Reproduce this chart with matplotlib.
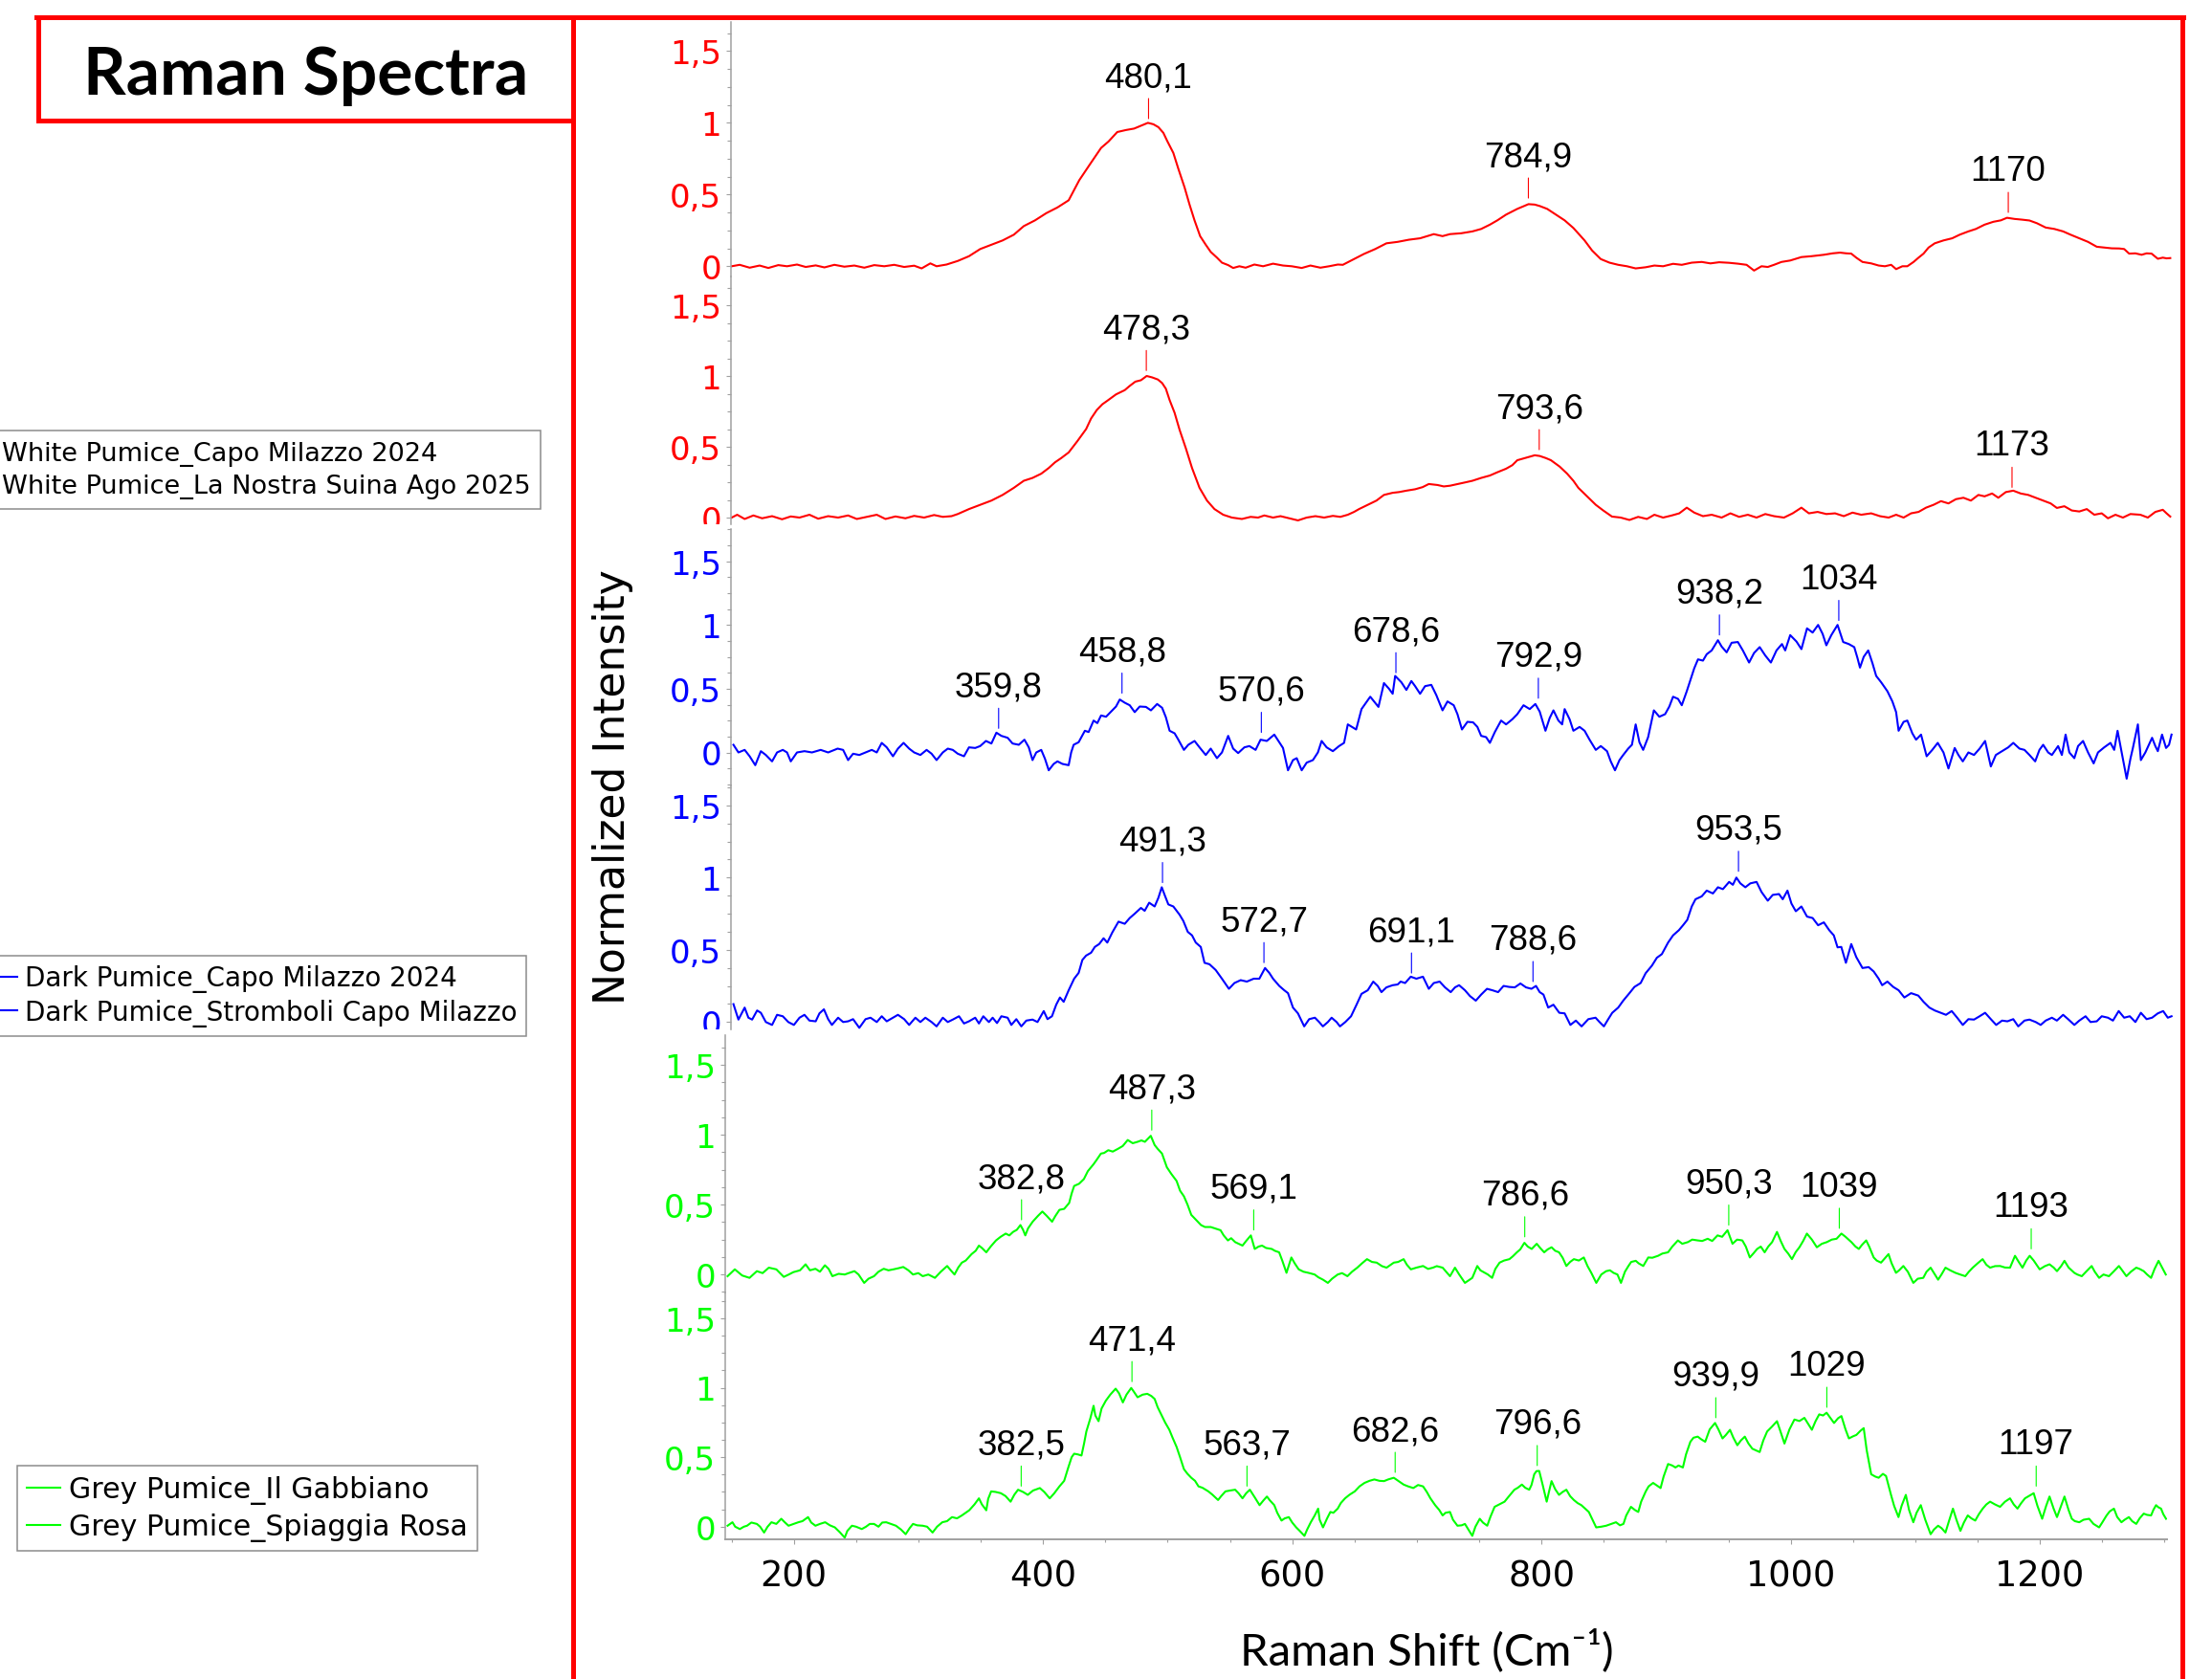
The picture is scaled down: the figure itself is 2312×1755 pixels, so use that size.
import matplotlib
matplotlib.use("Agg")
import matplotlib.pyplot as plt
from matplotlib.ticker import MultipleLocator, FixedLocator, FuncFormatter
from matplotlib.lines import Line2D
from matplotlib.transforms import Bbox, TransformedBbox

# ---------------- data (Raman shift, normalized intensity) ----------------
legend_white = ["White Pumice_Capo Milazzo 2024", "White Pumice_La Nostra Suina Ago 2025"]
legend_dark = ["Dark Pumice_Capo Milazzo 2024", "Dark Pumice_Stromboli Capo Milazzo"]
legend_grey = ["Grey Pumice_Il Gabbiano", "Grey Pumice_Spiaggia Rosa"]

white_capo = [(145.6,0.0),(152,0.01),(160,-0.01),(168,0.005),(175,-0.012),(183,0.008),(190,0.0),(198,0.012),(205,-0.005),(213,0.006),(220,-0.008),(228,0.01),(236,-0.003),(244,0.005),(252,-0.01),(260,0.008),(268,0.0),(276,0.01),(284,-0.005),(292,0.004),(298,-0.015),(305,0.02),(310,0.0),(318,0.012),(327,0.037),(336,0.07),(345,0.12),(354,0.15),(363,0.18),(372,0.22),(380,0.28),(389,0.32),(398,0.37),(407,0.41),(416,0.46),(424.5,0.60),(433,0.71),(442,0.825),(448,0.87),(455,0.936),(462,0.95),(468.5,0.96),(474,0.98),(479.6,1.0),(484,0.99),(488,0.97),(492,0.93),(495,0.875),(500,0.79),(504,0.68),(509,0.55),(513,0.43),(517,0.32),(521.5,0.21),(526,0.15),(530,0.10),(535,0.06),(539,0.025),(544,0.008),(548,-0.012),(553,0.0),(558,-0.01),(565,0.012),(572,0.0),(580,0.018),(588,0.005),(595,0.0),(603,-0.012),(610,0.005),(618,-0.01),(625,0.0),(632,0.012),(636,0.01),(645,0.05),(653,0.086),(662,0.12),(671,0.16),(680,0.17),(689,0.185),(698,0.195),(709,0.224),(716,0.21),(722,0.224),(731,0.23),(740,0.243),(747,0.26),(754,0.29),(760,0.32),(767,0.36),(776,0.40),(785,0.433),(790,0.43),(794,0.42),(800,0.40),(807,0.36),(814,0.32),(821,0.267),(830,0.18),(836,0.11),(843,0.05),(850,0.025),(857,0.01),(864,0.0),(871,-0.015),(879,-0.007),(886,0.005),(893,0.0),(901,0.017),(908,0.01),(916,0.025),(924,0.03),(931,0.02),(938,0.028),(946,0.024),(953,0.018),(960,0.01),(966,-0.03),(972,0.0),(977,-0.005),(982,0.01),(988,0.03),(995,0.04),(1004,0.064),(1012,0.07),(1022,0.08),(1029,0.09),(1035,0.095),(1040,0.09),(1044,0.088),(1048,0.06),(1053,0.03),(1060,0.02),(1066,0.005),(1071,0.0),(1076,0.01),(1080,-0.02),(1085,0.0),(1089,0.0),(1094,0.03),(1098,0.06),(1102,0.088),(1106,0.13),(1111,0.16),(1118,0.18),(1125,0.195),(1131,0.22),(1138,0.243),(1144,0.26),(1151,0.29),(1158,0.31),(1164,0.32),(1169,0.338),(1175,0.33),(1181,0.325),(1187,0.319),(1193,0.30),(1200,0.27),(1207,0.26),(1214,0.243),(1220,0.22),(1227,0.195),(1234,0.17),(1241,0.136),(1248,0.13),(1253,0.125),(1259,0.124),(1263,0.12),(1267,0.088),(1272,0.09),(1277,0.08),(1281,0.09),(1285,0.088),(1290,0.052),(1294,0.06),(1297,0.055),(1300,0.057)]

white_suina = [(145.6,0.0),(150,0.02),(156,-0.01),(163,0.015),(170,-0.005),(178,0.01),(186,-0.012),(193,0.008),(200,0.0),(208,0.02),(215,-0.008),(223,0.01),(231,0.0),(239,0.015),(246,-0.01),(254,0.005),(262,0.02),(269,-0.01),(277,0.008),(285,-0.005),(292,0.012),(300,0.0),(308,0.018),(315,0.005),(322,0.01),(327,0.025),(336,0.06),(345,0.09),(354,0.12),(363,0.16),(372,0.21),(380,0.26),(387,0.28),(394,0.31),(400,0.35),(405,0.39),(410,0.42),(416,0.46),(423,0.54),(430,0.625),(434,0.70),(438.6,0.76),(443,0.80),(447,0.825),(454,0.87),(461,0.90),(465,0.93),(469.5,0.96),(474,0.97),(478.6,1.0),(483,0.99),(487.6,0.975),(491,0.95),(494,0.91),(497,0.83),(501,0.74),(505,0.62),(510,0.49),(515,0.35),(521,0.21),(527,0.12),(533,0.06),(540,0.02),(547,0.0),(555,-0.01),(562,0.005),(568,0.0),(573,0.015),(580,0.0),(586,0.01),(593,-0.005),(600,-0.02),(607,0.0),(614,0.01),(621,0.0),(628,0.012),(634,0.005),(640,0.02),(645,0.04),(649,0.06),(656,0.09),(663,0.12),(669,0.16),(676,0.175),(681,0.18),(687,0.19),(694,0.20),(700,0.215),(705,0.237),(712,0.23),(717,0.22),(722,0.225),(730,0.24),(735,0.25),(740,0.26),(747,0.28),(754,0.297),(760,0.32),(767,0.345),(772,0.37),(776,0.405),(782,0.42),(786,0.43),(790,0.44),(794,0.435),(799,0.42),(803,0.405),(810,0.36),(816,0.31),(821,0.26),(825,0.21),(832,0.15),(839,0.09),(845,0.05),(852,0.007),(859,0.0),(866,-0.017),(873,0.005),(880,-0.01),(886,0.02),(893,0.0),(900,0.015),(906,0.03),(912,0.07),(918,0.035),(925,0.01),(932,0.02),(940,0.0),(947,0.03),(954,0.005),(961,0.02),(968,0.0),(975,0.025),(982,0.01),(990,0.0),(997,0.03),(1004,0.07),(1010,0.03),(1017,0.04),(1024,0.025),(1031,0.03),(1038,0.01),(1045,0.035),(1052,0.02),(1060,0.03),(1067,0.01),(1074,0.0),(1080,0.02),(1086,0.0),(1092,0.03),(1098,0.04),(1104,0.07),(1110,0.09),(1116,0.116),(1122,0.10),(1128,0.13),(1134,0.14),(1140,0.12),(1146,0.16),(1151,0.15),(1157,0.17),(1162,0.14),(1168,0.18),(1174,0.19),(1180,0.17),(1186,0.16),(1192,0.14),(1198,0.12),(1204,0.10),(1209,0.068),(1215,0.08),(1221,0.05),(1227,0.043),(1233,0.06),(1239,0.02),(1245,0.03),(1250,-0.005),(1256,0.02),(1262,0.0),(1268,0.025),(1276,0.02),(1282,0.0),(1288,0.04),(1294,0.055),(1297,0.03),(1300,0.007)]

dark_capo = [(147,0.06),(151,0.0),(156,0.02),(160,-0.03),(164.5,-0.1),(169,0.01),(173,-0.02),(178,-0.07),(182,0.0),(186.6,0.02),(190,0.0),(193,-0.07),(198,0.0),(204,0.01),(210,0.0),(217,0.02),(223,0.0),(230.6,0.03),(235,0.02),(239,-0.06),(243,-0.01),(248,-0.02),(253,0.0),(258,0.02),(262,0.0),(266,0.075),(270,0.04),(275,-0.03),(279,0.03),(283.5,0.075),(288,0.03),(292,0.0),(297,-0.02),(302,0.02),(306,-0.01),(310,-0.06),(315,0.0),(319,0.03),(323,0.02),(327,-0.01),(332,-0.03),(336,0.04),(341,0.035),(345,0.05),(349.6,0.09),(354,0.07),(358,0.155),(362,0.13),(367,0.115),(371,0.07),(376,0.06),(380.5,0.10),(384,0.04),(387,-0.06),(390,0.0),(394,0.02),(397,-0.05),(400,-0.14),(404,-0.09),(407,-0.07),(411,-0.09),(416,-0.1),(418,0.0),(420,0.06),(424,0.08),(429,0.17),(432,0.16),(436,0.25),(439,0.23),(442,0.29),(446,0.28),(451,0.33),(454,0.36),(457,0.415),(461,0.39),(465,0.37),(469,0.316),(473,0.36),(478,0.357),(482,0.33),(487,0.38),(491,0.35),(494,0.276),(497,0.17),(501,0.15),(504,0.10),(508.5,0.02),(512,0.06),(517,0.09),(521,0.04),(526,-0.02),(530,0.03),(535,-0.045),(539,0.0),(544,0.13),(548,0.03),(552,-0.005),(557,0.04),(561,0.05),(566,0.02),(570,0.10),(575,0.09),(581,0.14),(585,0.08),(588,0.035),(592,-0.14),(596,-0.06),(599,-0.045),(603,-0.14),(607,-0.08),(612,-0.06),(616,0.0),(619,0.09),(623,0.04),(628,0.01),(633,0.05),(637,0.075),(640,0.22),(646.7,0.18),(651,0.34),(658,0.437),(664.6,0.357),(669,0.544),(673,0.50),(676,0.46),(678,0.60),(683,0.55),(687,0.49),(691,0.56),(694,0.52),(698,0.46),(702,0.52),(707,0.53),(711,0.45),(716,0.33),(720,0.40),(725,0.37),(728,0.30),(731.6,0.18),(736,0.24),(740.5,0.236),(744,0.20),(747,0.13),(751,0.12),(754,0.075),(758,0.16),(763,0.25),(767,0.22),(772,0.26),(776,0.30),(781,0.37),(786,0.34),(790.5,0.38),(794,0.32),(798.6,0.17),(802,0.27),(805,0.33),(809,0.25),(812,0.22),(814,0.34),(818,0.26),(821,0.17),(826,0.20),(830,0.17),(834,0.10),(839,0.02),(843,0.05),(848,0.01),(851,-0.07),(854.4,-0.14),(858,-0.06),(861,-0.02),(865,0.03),(868,0.06),(871,0.22),(874,0.08),(877,0.02),(881,0.12),(885.6,0.33),(890,0.28),(894.6,0.30),(898,0.36),(901,0.437),(905,0.42),(908,0.37),(912,0.48),(915,0.57),(918,0.66),(921,0.73),(925,0.72),(928,0.77),(932,0.80),(937,0.88),(940,0.83),(944,0.785),(948,0.86),(953,0.866),(957,0.80),(962,0.705),(966,0.78),(970.5,0.826),(975,0.76),(979.5,0.705),(984,0.80),(988.4,0.85),(991,0.80),(995,0.92),(1000,0.87),(1004,0.81),(1008.5,0.973),(1013,0.94),(1017.4,1.0),(1021,0.93),(1024,0.84),(1028,0.92),(1033,1.0),(1037.5,0.866),(1042,0.85),(1046.4,0.826),(1049,0.74),(1051,0.665),(1054,0.75),(1057.6,0.80),(1061,0.70),(1064,0.6),(1068,0.55),(1073,0.48),(1077,0.40),(1080,0.316),(1082,0.17),(1086,0.24),(1089,0.25),(1093,0.15),(1096,0.10),(1100,0.14),(1104.5,-0.03),(1109,0.02),(1113.4,0.075),(1118,0.0),(1122,-0.126),(1127,0.035),(1130,-0.02),(1133.5,-0.07),(1138,0.0),(1142.5,-0.02),(1147,0.03),(1151.4,0.09),(1156,-0.11),(1160,-0.02),(1165,0.01),(1170,0.04),(1174,0.075),(1179,0.03),(1183,0.02),(1187,-0.02),(1191.6,-0.07),(1195,0.02),(1198,0.06),(1202,0.0),(1205,-0.02),(1210,0.05),(1213,-0.02),(1216,0.14),(1219,0.0),(1223,-0.045),(1226,0.05),(1230,0.09),(1234,0.0),(1238.5,-0.086),(1242,0.0),(1247,0.04),(1252,0.075),(1255,0.02),(1257.7,0.17),(1261,0.0),(1265,-0.206),(1268,-0.05),(1270,0.035),(1274,0.22),(1276.4,-0.06),(1280,0.0),(1285.4,0.115),(1288,0.05),(1290,0.01),(1293.4,0.14),(1296.6,0.035),(1299,0.06),(1301,0.14)]

dark_stromboli = [(147,0.124),(151,0.017),(156,0.1),(159,0.03),(162,0.017),(166,0.08),(169,0.064),(173,0.0),(178,-0.02),(182,0.05),(186.6,0.04),(191,0.0),(195.5,-0.02),(200,0.03),(204,0.05),(208,0.01),(213,0.005),(216,0.06),(219.6,0.088),(223,0.02),(226,-0.02),(231,0.03),(235,0.0),(239,0.005),(243,0.02),(248,-0.04),(253,0.02),(257,0.03),(262,0.0),(266,0.04),(270,0.005),(275,0.03),(279,0.05),(284,0.02),(288,-0.02),(293,0.03),(297,0.0),(301,0.03),(306,0.0),(310,-0.03),(315,0.03),(319,0.0),(323,0.017),(328,0.04),(332,-0.01),(336,0.005),(341,0.03),(344,-0.01),(347.5,0.04),(352,0.0),(355,0.03),(358.5,-0.007),(362,0.04),(367,0.03),(370,-0.02),(374,0.02),(378,-0.03),(382,0.01),(387,0.017),(391,0.0),(396,0.076),(399,0.02),(402.6,0.04),(406,0.12),(409,0.17),(412,0.14),(416,0.22),(420.4,0.30),(424,0.34),(427,0.43),(430,0.46),(434,0.48),(437,0.52),(440.5,0.54),(444,0.58),(447,0.55),(451,0.62),(456,0.695),(461,0.68),(465,0.72),(469,0.75),(474,0.79),(477,0.77),(480.6,0.826),(485,0.80),(488,0.86),(490.7,0.933),(493,0.88),(496,0.814),(500,0.80),(505,0.743),(508,0.70),(511.6,0.624),(515,0.60),(518,0.55),(522,0.52),(525,0.41),(529,0.40),(534,0.36),(539,0.30),(544.6,0.23),(549,0.27),(554,0.29),(559,0.28),(564.5,0.30),(569,0.30),(573.6,0.374),(577,0.34),(580,0.30),(585,0.25),(589,0.22),(592,0.20),(596,0.1),(600,0.06),(605,-0.03),(609,0.02),(613.6,0.03),(617,0.0),(620,-0.03),(624,0.0),(627,0.03),(631,0.0),(633.7,-0.03),(638,0.0),(642.6,0.04),(647,0.12),(651,0.195),(656,0.22),(660.4,0.28),(664,0.25),(667,0.207),(671,0.24),(676,0.255),(680,0.26),(682.4,0.28),(686,0.27),(690.5,0.314),(695,0.30),(700.3,0.314),(705,0.23),(709,0.27),(713.7,0.28),(718,0.24),(722.6,0.207),(726,0.24),(729.3,0.255),(734,0.22),(738,0.18),(742.7,0.148),(747,0.19),(751.7,0.23),(756,0.22),(760.6,0.207),(765,0.25),(769.5,0.243),(774,0.24),(778.5,0.267),(783,0.24),(787.4,0.23),(791,0.25),(794,0.207),(797,0.19),(800.8,0.1),(805,0.12),(809.7,0.064),(814,0.06),(818.6,-0.02),(823,0.01),(827.6,-0.03),(833,0.02),(838.8,0.03),(842,0.0),(845.5,-0.03),(849,0.02),(852.2,0.064),(857,0.10),(861,0.148),(866,0.2),(870,0.243),(875,0.27),(879,0.338),(884,0.39),(888,0.445),(892,0.47),(897,0.55),(901,0.60),(905.7,0.636),(909,0.67),(912.4,0.707),(916,0.80),(919,0.85),(924,0.87),(928,0.91),(933,0.89),(937,0.933),(941,0.92),(946,0.97),(949,0.95),(951.8,1.0),(955,0.96),(959,0.933),(963,0.96),(968,0.97),(972,0.90),(977,0.84),(981,0.88),(986,0.886),(989,0.85),(992.8,0.91),(996,0.82),(999.5,0.767),(1004,0.80),(1008.5,0.73),(1013,0.72),(1017.4,0.67),(1022,0.69),(1026.3,0.636),(1030,0.60),(1033,0.517),(1036,0.52),(1039.7,0.41),(1044,0.54),(1048,0.45),(1053,0.374),(1058,0.38),(1062,0.35),(1066,0.30),(1068.8,0.255),(1073,0.28),(1077.7,0.243),(1082,0.22),(1086.6,0.17),(1092,0.20),(1097.8,0.183),(1102,0.14),(1106.7,0.1),(1111,0.08),(1115.7,0.064),(1120,0.05),(1124.6,0.076),(1129,0.03),(1133.5,-0.02),(1138,0.02),(1142.5,0.017),(1147,0.04),(1151.4,0.064),(1156,0.02),(1160.3,-0.02),(1165,0.01),(1169.3,0.005),(1174,0.02),(1178,-0.03),(1183,0.01),(1187,0.017),(1192,0.0),(1196,-0.02),(1200,0.01),(1205,0.03),(1209,0.01),(1214,0.05),(1218,0.02),(1223,-0.02),(1227,0.01),(1232,0.04),(1236,0.0),(1241,0.005),(1245,0.04),(1250,0.03),(1254,0.01),(1258.6,0.076),(1263,0.03),(1267.5,0.04),(1272,0.0),(1276.4,0.064),(1281,0.02),(1285.4,0.03),(1290,0.06),(1294.3,0.076),(1298,0.03),(1301,0.04)]

grey_gabbiano = [(146.9,-0.012),(152.7,0.037),(158.6,-0.007),(164.5,-0.024),(170.4,0.024),(175,0.01),(180,0.049),(186,0.037),(192,-0.017),(196,0.0),(199.7,0.017),(205,0.03),(209.5,0.073),(213,0.03),(217.4,0.041),(221,0.02),(225,0.066),(228,0.04),(231,-0.012),(236,0.005),(240.9,0.0),(244,0.01),(248.7,0.024),(252,0.0),(256.5,-0.06),(260,-0.03),(264.4,-0.012),(268,0.02),(272.2,0.041),(276,0.03),(280,0.037),(284,0.045),(287.9,0.054),(292,0.03),(295.7,0.0),(300,0.01),(303.5,-0.012),(308,0.0),(313.3,-0.024),(318,0.02),(323.1,0.061),(326,0.03),(329,0.0),(332,0.05),(334.9,0.085),(338,0.10),(342.7,0.146),(346,0.17),(348.6,0.207),(351,0.19),(354.5,0.159),(358,0.20),(362.3,0.244),(366,0.27),(370.1,0.293),(373,0.28),(376,0.305),(379,0.32),(381.9,0.354),(384,0.32),(385.8,0.28),(388,0.33),(391.7,0.378),(396,0.42),(399.5,0.451),(403,0.42),(407.3,0.378),(410,0.42),(413.2,0.463),(417,0.47),(421,0.512),(423,0.58),(425,0.634),(429,0.65),(432.8,0.683),(436,0.74),(440.6,0.79),(443,0.82),(446.5,0.866),(449,0.87),(452.4,0.89),(456,0.88),(460.2,0.90),(464,0.92),(468,0.963),(472,0.94),(475.9,0.95),(479,0.96),(481.8,0.95),(484,0.97),(486.5,0.993),(489.6,0.927),(492,0.90),(495.5,0.866),(499.4,0.768),(503,0.72),(507.2,0.67),(510,0.60),(513.1,0.56),(516,0.50),(519,0.427),(523,0.39),(526.8,0.354),(530,0.34),(534.6,0.34),(538,0.33),(542.5,0.317),(545,0.28),(548.4,0.244),(551,0.26),(554.2,0.232),(557,0.22),(560.1,0.207),(563,0.24),(566.8,0.28),(569.9,0.183),(573,0.20),(575.8,0.207),(579,0.19),(583.6,0.183),(586,0.17),(589.5,0.159),(592,0.10),(595.4,0.012),(599.3,0.122),(602,0.08),(605.2,0.037),(609,0.02),(613,0.012),(618,0.0),(621,-0.02),(624.7,-0.037),(628.6,-0.06),(632,-0.03),(636.5,0.0),(640,0.01),(644.3,-0.012),(648,0.02),(652.2,0.049),(656,0.08),(660,0.11),(664,0.09),(667.8,0.085),(672,0.06),(675.7,0.049),(679,0.07),(681.5,0.085),(685,0.09),(689.4,0.11),(692,0.07),(695.2,0.037),(700,0.05),(705,0.061),(709,0.04),(712.9,0.049),(716,0.06),(720.7,0.049),(726.6,-0.012),(730.6,0.049),(734,0.0),(738.6,-0.06),(744.5,-0.024),(748.5,0.061),(751,0.03),(754.5,0.012),(757,0.0),(760.4,-0.024),(763,0.04),(766.4,0.085),(770,0.10),(774.3,0.11),(777,0.13),(780.3,0.159),(783,0.18),(786.3,0.227),(789,0.20),(792.2,0.183),(796.2,0.22),(799,0.19),(802.2,0.159),(805,0.18),(808.1,0.195),(811,0.17),(814.1,0.159),(817,0.12),(820,0.061),(823,0.09),(826,0.11),(830,0.10),(834,0.122),(837,0.06),(840,0.012),(844,-0.06),(848,0.0),(851.9,0.024),(855,0.03),(857.8,0.012),(861,0.0),(863.8,-0.06),(867,0.02),(869.8,0.061),(872,0.09),(875.7,0.098),(878,0.08),(881.7,0.061),(885.7,0.122),(889,0.12),(893.6,0.134),(897,0.15),(901.6,0.159),(905,0.20),(909.5,0.244),(913,0.22),(917.5,0.232),(921,0.25),(925.4,0.244),(929,0.24),(933.4,0.256),(937,0.24),(941.3,0.28),(945,0.27),(949.3,0.317),(953.3,0.22),(957,0.25),(961.2,0.244),(964,0.20),(967.2,0.122),(970,0.15),(973.1,0.183),(976,0.20),(979.1,0.159),(982,0.20),(985.1,0.232),(989,0.305),(992,0.24),(995,0.183),(998,0.15),(1001,0.11),(1004,0.16),(1007,0.195),(1010,0.24),(1013,0.293),(1017,0.25),(1021,0.195),(1025,0.22),(1029,0.232),(1033,0.25),(1036.8,0.256),(1040.7,0.293),(1044,0.27),(1048.7,0.232),(1052,0.20),(1054.7,0.183),(1057,0.21),(1060.6,0.244),(1063,0.20),(1066.6,0.122),(1069,0.10),(1072.5,0.085),(1075,0.11),(1078.5,0.146),(1081,0.08),(1084.5,0.012),(1087,0.03),(1090.4,0.061),(1094,0.02),(1098.4,-0.06),(1102,-0.03),(1106.4,-0.024),(1109,0.02),(1112.3,0.049),(1115,0.01),(1118.3,-0.037),(1121,0.0),(1124.2,0.049),(1128,0.03),(1132.2,0.012),(1136,0.0),(1140.1,-0.012),(1143,0.02),(1146.1,0.049),(1150,0.08),(1154,0.11),(1157,0.07),(1160,0.049),(1164,0.06),(1168,0.061),(1172,0.05),(1176,0.049),(1180,0.134),(1183,0.09),(1186,0.049),(1189,0.10),(1191.8,0.134),(1195,0.10),(1199.8,0.037),(1204,0.06),(1207.7,0.073),(1211,0.05),(1213.7,0.024),(1217,0.06),(1219.7,0.098),(1223,0.05),(1227.6,0.012),(1230,0.0),(1233.6,-0.012),(1237,0.02),(1241.5,0.061),(1244,0.02),(1247.5,-0.024),(1251,0.0),(1255.4,-0.012),(1259,0.02),(1263.4,0.061),(1266,0.03),(1269.4,-0.012),(1273,0.02),(1277.3,0.049),(1280,0.04),(1283.3,0.024),(1286,0.0),(1289.2,-0.024),(1292,0.04),(1295.2,0.098),(1298,0.05),(1301,0.0)]

grey_spiaggia = [(146.9,0.007),(150.8,0.032),(153,0.0),(156.7,-0.017),(160,0.0),(162.5,0.007),(166,0.03),(170.4,0.02),(173,0.0),(176.2,-0.042),(179,0.0),(182.1,0.032),(186,0.02),(190,0.057),(193,0.03),(195.8,0.007),(200,0.02),(203.7,0.032),(207,0.04),(211.5,0.069),(214,0.03),(217.4,0.007),(221,0.02),(225.2,0.032),(229,0.01),(233,-0.005),(237,-0.04),(240.9,-0.079),(243,-0.03),(246.7,0.007),(250,0.0),(254.6,-0.017),(258,0.0),(261,0.02),(264.4,0.02),(268,0.0),(271,0.03),(274.2,0.032),(278,0.02),(282,0.007),(286,-0.02),(289.8,-0.054),(293,-0.01),(295.7,0.02),(299,0.01),(303.5,0.007),(307,0.0),(311.4,-0.042),(315,0.0),(319.2,0.032),(323,0.04),(327,0.069),(331,0.06),(334.9,0.081),(338,0.10),(340.8,0.118),(345,0.16),(348.6,0.204),(351,0.16),(354.5,0.118),(356,0.20),(358.4,0.254),(362,0.25),(366.2,0.241),(370,0.22),(374,0.18),(377,0.23),(380,0.266),(384,0.25),(387.8,0.229),(392,0.26),(397.5,0.278),(401,0.25),(405.4,0.204),(409,0.24),(413.2,0.29),(417,0.33),(420.3,0.426),(423,0.50),(425,0.525),(428,0.52),(430.9,0.512),(433,0.60),(434.8,0.685),(438,0.78),(440.6,0.87),(442,0.80),(444.6,0.759),(447,0.85),(450.4,0.906),(454,0.95),(458.3,0.993),(461,0.96),(464.1,0.894),(467,0.95),(470.8,0.998),(473,0.97),(475.9,0.931),(480,0.95),(483.7,0.956),(487,0.94),(489.6,0.919),(492,0.86),(495.5,0.796),(498,0.75),(501.4,0.697),(504,0.64),(507.2,0.574),(510,0.50),(513.1,0.414),(516,0.38),(519,0.352),(522,0.33),(524.8,0.29),(528,0.28),(532.7,0.254),(536,0.23),(540.5,0.192),(543,0.22),(546.4,0.254),(550,0.26),(554.2,0.266),(557,0.24),(560.1,0.204),(563,0.24),(566,0.266),(570,0.21),(573.8,0.155),(577,0.19),(579.7,0.217),(582,0.19),(585.6,0.155),(588,0.10),(591.4,0.044),(594,0.06),(597.3,0.069),(600,0.03),(603.2,-0.005),(606,-0.03),(609.8,-0.066),(612,-0.02),(614.9,0.032),(618,0.08),(620.8,0.13),(622,0.05),(624.7,-0.005),(628,0.06),(630.6,0.106),(633,0.10),(636.5,0.13),(639,0.17),(642.4,0.204),(646,0.23),(650.2,0.254),(654,0.29),(658,0.315),(662,0.33),(665.9,0.34),(670,0.33),(673.7,0.328),(677,0.34),(681.5,0.352),(685,0.33),(689.4,0.303),(693,0.29),(697.2,0.278),(701,0.30),(705,0.29),(708,0.25),(710.9,0.204),(714.7,0.155),(718,0.12),(720.7,0.081),(723,0.10),(726.6,0.106),(729,0.05),(732.6,0.007),(736,0.01),(738.6,0.02),(742,-0.03),(744.5,-0.066),(747,0.0),(750.5,0.057),(753,0.03),(756.5,0.007),(759,0.07),(762.4,0.143),(766,0.16),(770.4,0.18),(774,0.22),(778.3,0.266),(781,0.28),(784.3,0.303),(787,0.28),(790.2,0.266),(792,0.30),(794.2,0.377),(796,0.40),(798.2,0.401),(801,0.30),(804.2,0.18),(806,0.25),(808.1,0.328),(811,0.27),(814.1,0.229),(817,0.25),(820,0.266),(823,0.22),(826,0.192),(829,0.17),(832,0.155),(835,0.13),(838,0.106),(841,0.05),(843.9,-0.005),(848,0.0),(851.9,0.007),(856,0.02),(859.8,0.032),(863,0.01),(865.8,0.02),(868,0.08),(871.8,0.143),(875,0.12),(877.7,0.106),(880,0.18),(883.7,0.254),(886,0.29),(889.6,0.315),(892,0.30),(895.6,0.278),(898,0.36),(901.6,0.451),(905,0.44),(907.5,0.426),(910,0.44),(913.5,0.426),(916,0.52),(919.5,0.611),(922,0.64),(925.4,0.648),(928,0.63),(931.4,0.611),(935,0.70),(939.3,0.746),(942,0.70),(945.3,0.635),(948,0.66),(951.3,0.697),(954,0.64),(957.2,0.586),(960,0.62),(963.2,0.648),(966,0.60),(969.2,0.561),(972,0.55),(975.1,0.537),(978,0.62),(981.1,0.685),(985,0.72),(989,0.759),(992,0.68),(995,0.598),(999,0.70),(1003,0.771),(1007,0.76),(1011,0.783),(1014,0.74),(1017,0.697),(1020,0.76),(1022.9,0.808),(1026,0.80),(1028.8,0.82),(1032,0.78),(1034.8,0.746),(1038,0.78),(1040.7,0.796),(1044,0.70),(1046.7,0.635),(1050,0.65),(1052.7,0.66),(1056,0.69),(1058.6,0.709),(1061,0.55),(1064.6,0.377),(1068,0.36),(1070.6,0.352),(1074,0.38),(1076.5,0.365),(1080.5,0.229),(1083,0.15),(1086.5,0.069),(1089,0.15),(1092.4,0.229),(1095,0.12),(1098.4,0.032),(1101,0.10),(1104.4,0.155),(1108,0.05),(1112.3,-0.054),(1115,-0.02),(1118.3,0.007),(1121,-0.01),(1124.2,-0.042),(1127,0.04),(1130.2,0.13),(1133,0.05),(1136.2,-0.03),(1139,0.03),(1142.1,0.081),(1145,0.06),(1148.1,0.044),(1151,0.09),(1154.1,0.13),(1157,0.16),(1160,0.18),(1164,0.16),(1168,0.143),(1172,0.18),(1176,0.204),(1179,0.16),(1182,0.13),(1185,0.17),(1188,0.204),(1191,0.22),(1195,0.241),(1198,0.15),(1201.8,0.057),(1205,0.15),(1207.7,0.217),(1211,0.13),(1213.7,0.069),(1217,0.15),(1219.7,0.217),(1223,0.12),(1225.6,0.057),(1228,0.04),(1231.6,0.032),(1235,0.05),(1239.5,0.057),(1243,0.02),(1247.5,-0.005),(1250,0.03),(1253.5,0.081),(1256,0.11),(1259.4,0.13),(1262,0.07),(1265.4,0.032),(1268,0.05),(1271.4,0.069),(1274,0.04),(1277.3,0.02),(1280,0.06),(1283.3,0.094),(1286,0.085),(1289.2,0.081),(1291,0.12),(1293.2,0.155),(1295,0.14),(1297.2,0.13),(1299,0.09),(1301.2,0.057)]

# peak markers: (position, curve height at marker, label)
peaks_white_capo = [(480.1, 1.016, "480,1"), (784.9, 0.462, "784,9"), (1170, 0.362, "1170")]
peaks_white_suina = [(478.3, 1.025, "478,3"), (793.6, 0.466, "793,6"), (1173, 0.20, "1173")]
peaks_dark_capo = [(359.8, 0.174, "359,8"), (458.8, 0.45, "458,8"), (570.6, 0.142, "570,6"),
                   (678.6, 0.61, "678,6"), (792.9, 0.41, "792,9"), (938.2, 0.906, "938,2"),
                   (1034, 1.02, "1034")]
peaks_dark_stromboli = [(491.3, 0.952, "491,3"), (572.7, 0.398, "572,7"), (691.1, 0.326, "691,1"),
                        (788.6, 0.267, "788,6"), (953.5, 1.03, "953,5")]
peaks_grey_gabbiano = [(382.8, 0.378, "382,8"), (487.3, 1.02, "487,3"), (569.1, 0.305, "569,1"),
                       (786.6, 0.256, "786,6"), (950.3, 0.34, "950,3"), (1039, 0.317, "1039"),
                       (1193, 0.17, "1193")]
peaks_grey_spiaggia = [(382.5, 0.278, "382,5"), (471.4, 1.03, "471,4"), (563.7, 0.278, "563,7"),
                       (682.6, 0.377, "682,6"), (796.6, 0.426, "796,6"), (939.9, 0.77, "939,9"),
                       (1029, 0.845, "1029"), (1197, 0.278, "1197")]

y_ticks = [0, 0.5, 1, 1.5]
x_ticks = [200, 400, 600, 800, 1000, 1200]
RED, BLUE, GREEN = "#ff0000", "#0000ff", "#00ff00"

# ---------------- figure ----------------
W, H = 2312, 1756
fig = plt.figure(figsize=(W / 100, H / 100), dpi=100)
fig.patch.set_facecolor("white")


def fx(p):
    return p / W


def fy(p):
    return 1 - p / H


XLIM = (145, 1302)
AX_W = 1507
# (data, peaks, color, left_px, top_px, bottom_px, zero_px, px_per_unit, clip_labels)
panels = [
    (white_capo, peaks_white_capo, RED, 764, 24, 290, 279.3, 149.9, False),
    (white_suina, peaks_white_suina, RED, 764, 290, 549, 542.0, 148.0, True),
    (dark_capo, peaks_dark_capo, BLUE, 764, 554, 822, 787.5, 133.3, False),
    (dark_stromboli, peaks_dark_stromboli, BLUE, 764, 822, 1077, 1069.3, 151.0, True),
    (grey_gabbiano, peaks_grey_gabbiano, GREEN, 758, 1083, 1352, 1333.2, 146.0, False),
    (grey_spiaggia, peaks_grey_spiaggia, GREEN, 758, 1352, 1610, 1596.8, 145.3, False),
]

fmt = FuncFormatter(lambda v, p: ("%g" % v).replace(".", ","))
PX = 0.72  # points per pixel at 100 dpi

for i, (data, peaks, col, left, top, bot, zero, unit, clip) in enumerate(panels):
    ax = fig.add_axes([fx(left), fy(bot), AX_W / W, (bot - top) / H])
    ax.patch.set_visible(False)
    xs = [p[0] for p in data]
    ys = [p[1] for p in data]
    ax.plot(xs, ys, color=col, lw=1.5, solid_joinstyle="round")
    ax.set_xlim(*XLIM)
    ax.set_ylim(-(bot - zero) / unit, (zero - top) / unit)
    for s in ("top", "right", "bottom"):
        ax.spines[s].set_visible(False)
    ax.spines["left"].set_color("#a0a0a0")
    ax.spines["left"].set_linewidth(1.1)
    ax.yaxis.set_major_locator(FixedLocator(y_ticks))
    ax.yaxis.set_major_formatter(fmt)
    ax.yaxis.set_minor_locator(MultipleLocator(0.125))
    ax.tick_params(axis="y", which="major", direction="out", length=3.5, width=0.8,
                   color="#a0a0a0", labelcolor=col, labelsize=24.5, pad=3.5)
    ax.tick_params(axis="y", which="minor", direction="out", length=2.6, width=0.8,
                   color="#a0a0a0")
    if i == len(panels) - 1:
        ax.spines["bottom"].set_visible(True)
        ax.spines["bottom"].set_color("#a0a0a0")
        ax.spines["bottom"].set_linewidth(1.4)
        ax.xaxis.set_major_locator(FixedLocator(x_ticks))
        ax.xaxis.set_minor_locator(MultipleLocator(50))
        ax.tick_params(axis="x", which="major", direction="out", length=3.5, width=0.8,
                       color="#a0a0a0", labelcolor="black", labelsize=26.5, pad=10.5)
        ax.tick_params(axis="x", which="minor", direction="out", length=2.5, width=0.8,
                       color="#a0a0a0")
    else:
        ax.set_xticks([])
    for (px, py, lab) in peaks:
        ax.annotate("", xy=(px, py), xytext=(0, 23 * PX), textcoords="offset points",
                    arrowprops=dict(arrowstyle="-", color=col, lw=0.8, shrinkA=0, shrinkB=2 * PX),
                    annotation_clip=False)
        ax.annotate(lab, xy=(px, py), xytext=(0, 36 * PX), textcoords="offset points",
                    ha="center", va="baseline", fontsize=26.5, family="Liberation Sans",
                    color="black", annotation_clip=False)
    if clip:
        cb = TransformedBbox(Bbox.from_extents(0, fy(bot), 1, 1), fig.transFigure)
        for t in ax.yaxis.get_major_ticks():
            t.label1.set_clip_box(cb)
            t.label1.set_clip_on(True)

# ---------------- legends ----------------
def add_legend(labels, col, anchor, loc, size, spacing, bpad):
    handles = [Line2D([], [], color=col, lw=1.5) for _ in labels]
    leg = fig.legend(handles, labels, loc=loc, bbox_to_anchor=anchor,
                     bbox_transform=fig.transFigure, borderaxespad=0, frameon=True,
                     fancybox=False, shadow=False, framealpha=1, edgecolor="#8c8c8c",
                     fontsize=size, handlelength=1.15, handletextpad=0.3,
                     borderpad=bpad, labelspacing=spacing)
    leg.get_frame().set_linewidth(1.1)
    return leg


add_legend(legend_white, RED, (fx(565), fy(451)), "upper right", 19.5, 0.32, 0.4)
add_legend(legend_dark, BLUE, (fx(550), fy(1000)), "upper right", 20, 0.24, 0.34)
add_legend(legend_grey, GREEN, (fx(18), fy(1533)), "upper left", 21.6, 0.3, 0.34)

# ---------------- frame and texts ----------------
LW = 3.6
frame = [
    ([38, 2282], [19, 19]),
    ([40, 40], [19, 127]),
    ([40, 599], [127, 127]),
    ([599, 599], [19, 1760]),
    ([2281, 2281], [19, 1760]),
]
for xs_, ys_ in frame:
    fig.add_artist(Line2D([fx(v) for v in xs_], [fy(v) for v in ys_],
                          transform=fig.transFigure, color="red", lw=LW,
                          solid_capstyle="projecting"))

fig.text(fx(320), fy(99), "Raman Spectra", family="Lato", weight="bold",
         fontsize=50, ha="center", va="baseline", color="black")
fig.text(fx(641), fy(823), "Normalized Intensity", rotation=90, ha="center",
         va="center", fontsize=31.7, color="black")
fig.text(fx(1491), fy(1740), "Raman Shift (Cm\u207b\u00b9)", family=["Lato", "DejaVu Sans"],
         fontsize=34, ha="center", va="baseline", color="black")

fig.savefig("out.png", dpi=100, facecolor="white")
